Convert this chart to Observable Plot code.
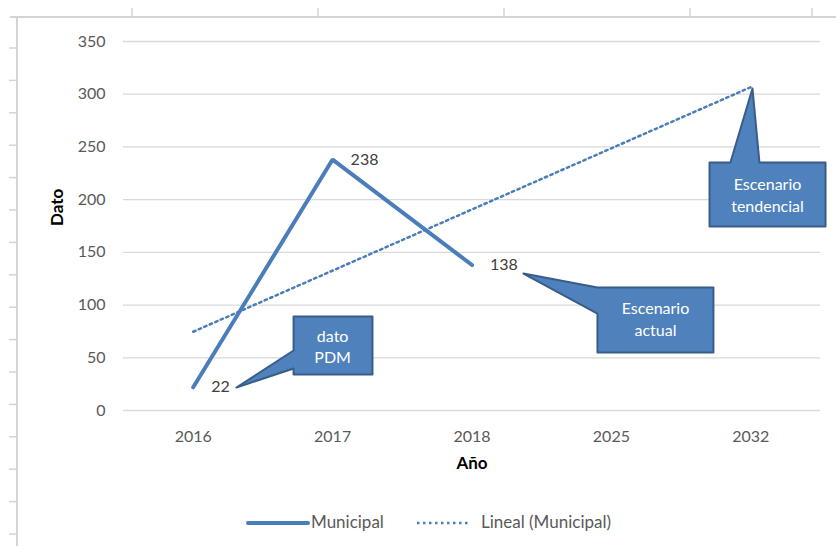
<!DOCTYPE html>
<html><head><meta charset="utf-8">
<script src="https://cdn.jsdelivr.net/npm/d3@7"></script>
<script src="https://cdn.jsdelivr.net/npm/@observablehq/plot@0.6"></script>
<style>
body{margin:0;background:#fff;font-family:Lato,"Liberation Sans",sans-serif}
#wrap{position:relative;width:836px;height:546px;overflow:hidden;background:#fff}
#bg{position:absolute;left:0;top:0}
#chart{position:absolute;left:0;top:0}
.lg{position:absolute;font-size:17px;color:#595959;line-height:20px;white-space:nowrap}
.sw{position:absolute}
</style></head><body>
<div id="wrap">
<svg id="bg" width="836" height="546"></svg>
<div id="chart"></div>
<svg class="sw" style="left:246px;top:518px" width="66" height="10"><line x1="2" x2="62" y1="5" y2="5" stroke="#4A7EBB" stroke-width="4" stroke-linecap="round"/></svg>
<div class="lg" style="left:311px;top:512px">Municipal</div>
<svg class="sw" style="left:415px;top:518px" width="56" height="10"><line x1="2" x2="54" y1="5" y2="5" stroke="#4A7EBB" stroke-width="2.5" stroke-dasharray="2.5,3.5"/></svg>
<div class="lg" style="left:481px;top:512px">Lineal (Municipal)</div>
</div>
<script>
// ---- data ----
const years = ["2016", "2017", "2018", "2025", "2032"];
const municipalYears = ["2016", "2017", "2018"];
const municipalValues = [22, 238, 138];
const trendYears = ["2016", "2032"];
const trendValues = [74.7, 306.7];
const yTicks = [0, 50, 100, 150, 200, 250, 300, 350];
const callouts = [
  {id: "pdm", lines: "dato\nPDM", cx: 1.0, cy: 61.7,
   shape: [[0.72,89.2],[1.286,89.2],[1.286,34.1],[0.72,34.1],[0.72,39.8],[0.31,21.8],[0.72,56.9]]},
  {id: "actual", lines: "Escenario\nactual", cx: 3.316, cy: 87.5,
   shape: [[2.9,116.7],[3.732,116.7],[3.732,55.0],[2.9,55.0],[2.9,92.0],[2.369,129.9]]},
  {id: "tend", lines: "Escenario\ntendencial", cx: 4.12, cy: 205.5,
   shape: [[3.704,235.2],[3.854,235.2],[4.012,305.4],[4.062,235.2],[4.536,235.2],[4.536,174.5],[3.704,174.5]]}
];

// ---- background spreadsheet frame ----
const bg = d3.select("#bg");
bg.append("line").attr("x1",10).attr("x2",836).attr("y1",17).attr("y2",17).attr("stroke","#D4D4D4").attr("stroke-width",2);
bg.append("line").attr("x1",17).attr("x2",17).attr("y1",17).attr("y2",546).attr("stroke","#D4D4D4").attr("stroke-width",2);
[132,318,504,690,812].forEach(x => bg.append("line").attr("x1",x).attr("x2",x).attr("y1",8).attr("y2",17).attr("stroke","#D4D4D4").attr("stroke-width",1.5));
for (let y = 48; y < 546; y += 32.4) bg.append("line").attr("x1",9).attr("x2",17).attr("y1",y).attr("y2",y).attr("stroke","#D4D4D4").attr("stroke-width",1.5);

// ---- chart ----
const idx = y => years.indexOf(y);
const muni = municipalYears.map((y, i) => ({x: idx(y), v: municipalValues[i]}));
const trend = trendYears.map((y, i) => ({x: idx(y), v: trendValues[i]}));
const shapes = callouts.flatMap(c => c.shape.map(([x, v]) => ({id: c.id, x, v})));

const chart = Plot.plot({
  width: 836,
  height: 500,
  marginLeft: 123,
  marginRight: 16,
  marginTop: 41,
  marginBottom: 90,
  style: {fontFamily: "Lato, 'Liberation Sans', sans-serif", fontSize: "16px", background: "transparent", overflow: "visible"},
  x: {type: "linear", domain: [-0.5, years.length - 0.5]},
  y: {domain: [0, 350]},
  marks: [
    Plot.ruleY(yTicks, {stroke: "#D9D9D9", strokeWidth: 1.3}),
    Plot.axisX(d3.range(years.length), {tickSize: 0, tickPadding: 20, tickFormat: i => years[i], fill: "#595959", fontSize: 16, label: null}),
    Plot.axisY(yTicks, {tickSize: 0, tickPadding: 18, fill: "#595959", fontSize: 16, label: null}),
    Plot.text(["Dato"], {frameAnchor: "left", dx: -66, rotate: -90, fontWeight: "bold", fontSize: 17, fill: "#000"}),
    Plot.text(["Año"], {frameAnchor: "bottom", dy: 58, fontWeight: "bold", fontSize: 17, fill: "#000"}),
    Plot.line(trend, {x: "x", y: "v", stroke: "#4A7EBB", strokeWidth: 2.5, strokeDasharray: "2.5,3.5"}),
    Plot.line(muni, {x: "x", y: "v", stroke: "#4A7EBB", strokeWidth: 4, strokeLinecap: "round", strokeLinejoin: "miter"}),
    Plot.text(muni, {x: "x", y: "v", text: d => String(d.v), textAnchor: "start", dx: 18, fill: "#404040", fontSize: 16}),
    Plot.line(shapes, {x: "x", y: "v", z: "id", curve: "linear-closed", fill: "#4F81BD", stroke: "#385D8A", strokeWidth: 2, clip: false}),
    Plot.text(callouts, {x: "cx", y: "cy", text: "lines", fill: "#fff", fontSize: 16, lineHeight: 1.35})
  ]
});
document.getElementById("chart").appendChild(chart);
</script>
</body></html>
